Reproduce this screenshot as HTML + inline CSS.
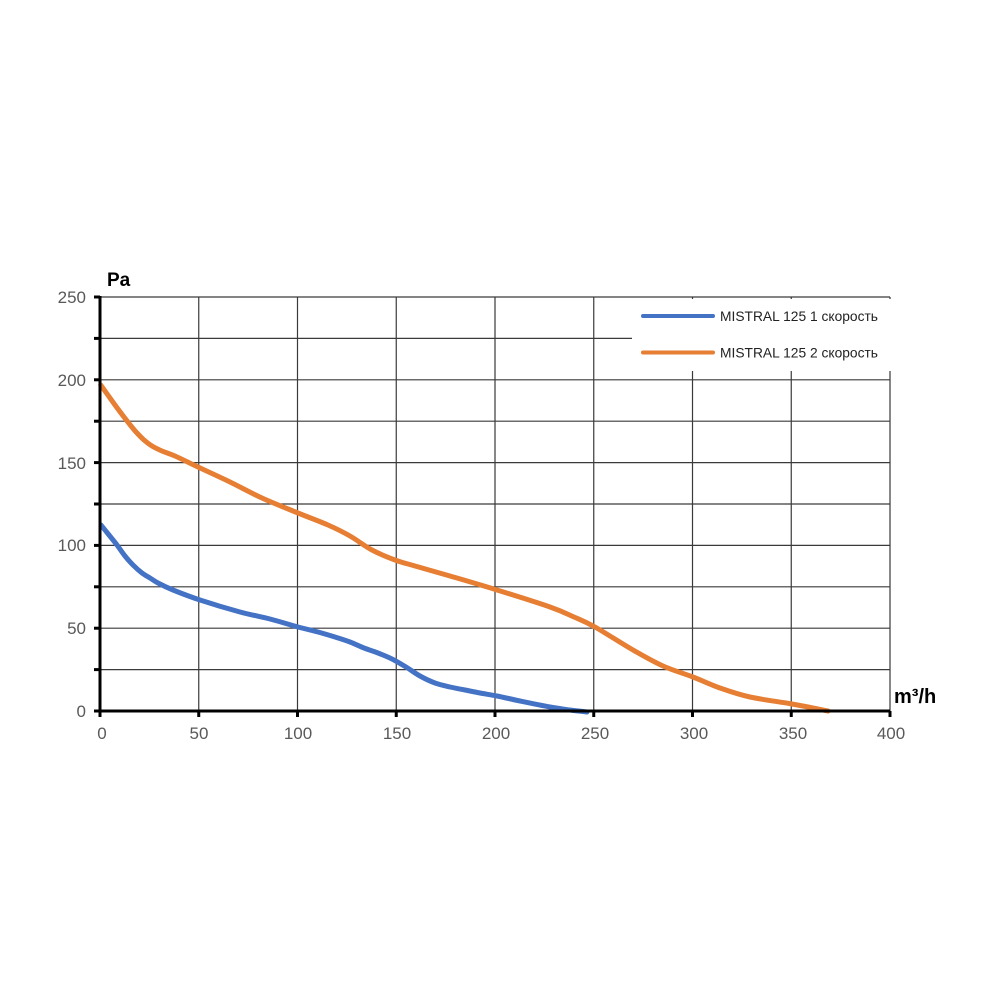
<!DOCTYPE html>
<html><head><meta charset="utf-8"><style>
html,body{margin:0;padding:0;background:#fff;}
svg{display:block;}
text{font-family:"Liberation Sans",Arial,sans-serif;}
</style></head><body>
<svg width="1000" height="1000" viewBox="0 0 1000 1000" xmlns="http://www.w3.org/2000/svg">
<rect width="1000" height="1000" fill="#fff"/>
<g stroke="#3a3a3a" stroke-width="1.2">
<line x1="100" y1="297" x2="890" y2="297"/>
<line x1="100" y1="338.4" x2="890" y2="338.4"/>
<line x1="100" y1="379.8" x2="890" y2="379.8"/>
<line x1="100" y1="421.2" x2="890" y2="421.2"/>
<line x1="100" y1="462.6" x2="890" y2="462.6"/>
<line x1="100" y1="504" x2="890" y2="504"/>
<line x1="100" y1="545.4" x2="890" y2="545.4"/>
<line x1="100" y1="586.8" x2="890" y2="586.8"/>
<line x1="100" y1="628.2" x2="890" y2="628.2"/>
<line x1="100" y1="669.6" x2="890" y2="669.6"/>
<line x1="198.75" y1="297" x2="198.75" y2="711"/>
<line x1="297.5" y1="297" x2="297.5" y2="711"/>
<line x1="396.25" y1="297" x2="396.25" y2="711"/>
<line x1="495" y1="297" x2="495" y2="711"/>
<line x1="593.75" y1="297" x2="593.75" y2="711"/>
<line x1="692.5" y1="297" x2="692.5" y2="711"/>
<line x1="791.25" y1="297" x2="791.25" y2="711"/>
<line x1="890" y1="297" x2="890" y2="711"/>
</g>
<!-- legend box -->
<rect x="632" y="299" width="262" height="72" fill="#fff"/>
<line x1="643" y1="316" x2="713" y2="316" stroke="#4472C4" stroke-width="4" stroke-linecap="round"/>
<line x1="643" y1="352.5" x2="713" y2="352.5" stroke="#E67E33" stroke-width="4" stroke-linecap="round"/>
<text x="720" y="321" font-size="14" fill="#222" textLength="158" lengthAdjust="spacingAndGlyphs">MISTRAL 125 1 скорость</text>
<text x="720" y="357.5" font-size="14" fill="#222" textLength="158" lengthAdjust="spacingAndGlyphs">MISTRAL 125 2 скорость</text>
<!-- series -->
<g fill="none" stroke-width="5" stroke-linejoin="round" stroke-linecap="round">
<polyline id="sb" stroke="#4472C4" points="101,525 109,535 117,545 125,556 133,565 142,573 150,578 158,583 173,590 200,600 240,612 270,619 298,627 318,632 335,637 350,642 364,648 378,653 392,659 406,667 420,676 435,683 450,687 465,690 480,693 497,696 520,701 550,707 570,710 587,712"/>
<polyline id="so" stroke="#E67E33" points="100.7,385 115,405 124,417 131,426 137,433 144,440 152,446 162,451 175,456 198,467 230,482 262,498 298,513 328,525 350,536 372,550 395,560 415,566 450,576 497,590 550,607 574,617 595,627 633,650 663,666 693,677 720,688 750,697 792,704 828,711"/>
</g>
<!-- axes -->
<g stroke="#000" stroke-width="3">
<line x1="100" y1="296" x2="100" y2="712.5"/>
<line x1="98.5" y1="711" x2="890" y2="711"/>
<line x1="94" y1="297" x2="100" y2="297"/>
<line x1="94" y1="338.4" x2="100" y2="338.4"/>
<line x1="94" y1="379.8" x2="100" y2="379.8"/>
<line x1="94" y1="421.2" x2="100" y2="421.2"/>
<line x1="94" y1="462.6" x2="100" y2="462.6"/>
<line x1="94" y1="504" x2="100" y2="504"/>
<line x1="94" y1="545.4" x2="100" y2="545.4"/>
<line x1="94" y1="586.8" x2="100" y2="586.8"/>
<line x1="94" y1="628.2" x2="100" y2="628.2"/>
<line x1="94" y1="669.6" x2="100" y2="669.6"/>
<line x1="94" y1="711" x2="100" y2="711"/>
<line x1="100" y1="711" x2="100" y2="717"/>
<line x1="198.75" y1="711" x2="198.75" y2="717"/>
<line x1="297.5" y1="711" x2="297.5" y2="717"/>
<line x1="396.25" y1="711" x2="396.25" y2="717"/>
<line x1="495" y1="711" x2="495" y2="717"/>
<line x1="593.75" y1="711" x2="593.75" y2="717"/>
<line x1="692.5" y1="711" x2="692.5" y2="717"/>
<line x1="791.25" y1="711" x2="791.25" y2="717"/>
<line x1="890" y1="711" x2="890" y2="717"/>
</g>
<g font-size="17" fill="#595959" text-anchor="end">
<text x="86" y="303">250</text>
<text x="86" y="386">200</text>
<text x="86" y="469">150</text>
<text x="86" y="551">100</text>
<text x="86" y="634">50</text>
<text x="86" y="717">0</text>
</g>
<g font-size="17" fill="#595959" text-anchor="middle">
<text x="102" y="739">0</text>
<text x="199" y="739">50</text>
<text x="298" y="739">100</text>
<text x="397" y="739">150</text>
<text x="496" y="739">200</text>
<text x="595" y="739">250</text>
<text x="694" y="739">300</text>
<text x="793" y="739">350</text>
<text x="891" y="739">400</text>
</g>
<text x="107" y="286" font-size="19" font-weight="bold" fill="#000">Pa</text>
<text x="894" y="703" font-size="20" font-weight="bold" fill="#000">m³/h</text>
</svg>
<script>
(function(){
  var ns="http://www.w3.org/2000/svg";
  ["sb","so"].forEach(function(id){
    var pl=document.getElementById(id); if(!pl) return;
    var pts=pl.getAttribute("points").trim().split(/\s+/).map(function(s){var a=s.split(",");return [parseFloat(a[0]),parseFloat(a[1])];});
    var d="M"+pts[0][0]+","+pts[0][1];
    for(var i=0;i<pts.length-1;i++){
      var p0=pts[i-1]||pts[i],p1=pts[i],p2=pts[i+1],p3=pts[i+2]||p2;
      var c1=[p1[0]+(p2[0]-p0[0])/6,p1[1]+(p2[1]-p0[1])/6];
      var c2=[p2[0]-(p3[0]-p1[0])/6,p2[1]-(p3[1]-p1[1])/6];
      d+=" C"+c1[0].toFixed(2)+","+c1[1].toFixed(2)+" "+c2[0].toFixed(2)+","+c2[1].toFixed(2)+" "+p2[0]+","+p2[1];
    }
    var p=document.createElementNS(ns,"path");
    p.setAttribute("d",d);
    p.setAttribute("stroke",pl.getAttribute("stroke"));
    pl.parentNode.replaceChild(p,pl);
  });
})();
</script>
</body></html>
